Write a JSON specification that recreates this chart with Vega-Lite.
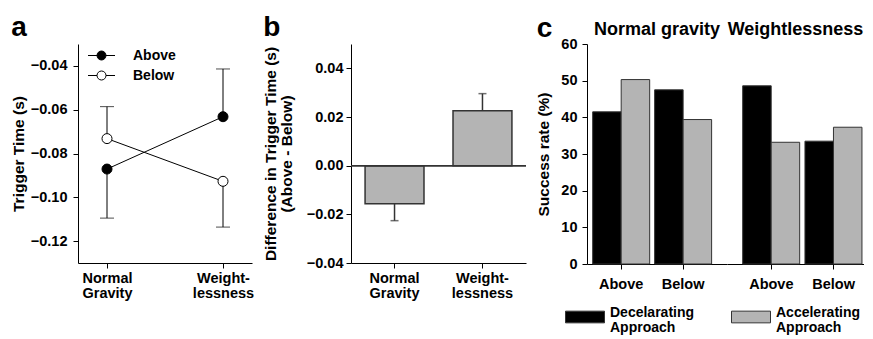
{
  "$schema": "https://vega.github.io/schema/vega-lite/v6.json",
  "padding": {"left": 11, "top": 14, "right": 0, "bottom": 0},
  "spacing": 9,
  "resolve": {
    "scale": {"x": "independent", "y": "independent", "fill": "independent", "color": "independent"},
    "legend": {"fill": "independent", "color": "independent"}
  },
  "hconcat": [
    {
      "width": 174,
      "height": 219,
      "title": {"text": "a", "offset": 2},
      "data": {
        "values": [
          {"condition": "Normal Gravity", "position": "Above", "mean": -0.0871, "err": -0.1095},
          {"condition": "Normal Gravity", "position": "Below", "mean": -0.0732, "err": -0.0586},
          {"condition": "Weightlessness", "position": "Above", "mean": -0.0632, "err": -0.0414},
          {"condition": "Weightlessness", "position": "Below", "mean": -0.0927, "err": -0.1136}
        ]
      },
      "layer": [
        {
          "mark": {"type": "line", "color": "black", "strokeWidth": 1},
          "encoding": {
            "x": {
              "field": "condition", "type": "nominal", "sort": ["Normal Gravity", "Weightlessness"],
              "scale": {"type": "point", "padding": 0.25},
              "axis": {
                "title": null, "labelAngle": 0, "labelLineHeight": 15, "labelPadding": 3,
                "labelExpr": "datum.value == 'Weightlessness' ? ['Weight-', 'lessness'] : ['Normal', 'Gravity']"
              }
            },
            "y": {
              "field": "mean", "type": "quantitative",
              "scale": {"domain": [-0.13, -0.03], "nice": false, "zero": false},
              "axis": {"title": "Trigger Time (s)", "values": [-0.12, -0.1, -0.08, -0.06, -0.04], "format": ".2f", "titlePadding": 4, "labelPadding": 6}
            },
            "detail": {"field": "position", "type": "nominal"}
          }
        },
        {
          "mark": {"type": "rule", "color": "black", "strokeWidth": 1},
          "encoding": {
            "x": {"field": "condition", "type": "nominal"},
            "y": {"field": "mean", "type": "quantitative"},
            "y2": {"field": "err"}
          }
        },
        {
          "mark": {"type": "tick", "color": "black", "thickness": 1, "size": 14, "orient": "horizontal"},
          "encoding": {
            "x": {"field": "condition", "type": "nominal"},
            "y": {"field": "err", "type": "quantitative"}
          }
        },
        {
          "mark": {"type": "point", "filled": true, "stroke": "black", "strokeWidth": 1, "size": 100, "opacity": 1},
          "encoding": {
            "x": {"field": "condition", "type": "nominal"},
            "y": {"field": "mean", "type": "quantitative"},
            "fill": {
              "field": "position", "type": "nominal",
              "scale": {"domain": ["Above", "Below"], "range": ["black", "white"]},
              "legend": {
                "title": null, "orient": "none", "legendX": 14, "legendY": 2, "padding": 0,
                "symbolType": "M-1.5,0H-0.5M0.5,0H1.5M-0.5,0A0.5,0.5,0,1,1,0.5,0A0.5,0.5,0,1,1,-0.5,0Z",
                "symbolSize": 324, "symbolStrokeColor": "black", "symbolStrokeWidth": 1,
                "labelFontSize": 14, "labelFontWeight": "bold", "labelOffset": 22, "rowPadding": 3, "labelColor": "black"
              }
            }
          }
        }
      ]
    },
    {
      "width": 175,
      "height": 219,
      "title": {"text": "b", "offset": 2},
      "data": {
        "values": [
          {"condition": "Normal Gravity", "diff": -0.0156, "err": -0.0226},
          {"condition": "Weightlessness", "diff": 0.0226, "err": 0.0296}
        ]
      },
      "layer": [
        {
          "mark": {"type": "bar", "fill": "#b4b4b4", "stroke": "#333333", "strokeWidth": 1.5},
          "encoding": {
            "x": {
              "field": "condition", "type": "nominal", "sort": ["Normal Gravity", "Weightlessness"],
              "scale": {"paddingInner": 0.33, "paddingOuter": 0.16},
              "axis": {
                "title": null, "labelAngle": 0, "labelLineHeight": 15, "labelPadding": 3,
                "labelExpr": "datum.value == 'Weightlessness' ? ['Weight-', 'lessness'] : ['Normal', 'Gravity']"
              }
            },
            "y": {
              "field": "diff", "type": "quantitative",
              "scale": {"domain": [-0.04, 0.05], "nice": false},
              "axis": {
                "title": ["Difference in Trigger Time (s)", "(Above - Below)"],
                "titleLineHeight": 16, "labelPadding": 3,
                "values": [-0.04, -0.02, 0, 0.02, 0.04], "format": ".2f", "titlePadding": 12
              }
            }
          }
        },
        {
          "mark": {"type": "rule", "color": "#333333", "strokeWidth": 1.5},
          "encoding": {"y": {"datum": 0, "type": "quantitative"}}
        },
        {
          "mark": {"type": "rule", "color": "#333333", "strokeWidth": 1.5},
          "encoding": {
            "x": {"field": "condition", "type": "nominal"},
            "y": {"field": "diff", "type": "quantitative"},
            "y2": {"field": "err"}
          }
        },
        {
          "mark": {"type": "tick", "color": "#333333", "thickness": 1.5, "size": 8, "orient": "horizontal"},
          "encoding": {
            "x": {"field": "condition", "type": "nominal"},
            "y": {"field": "err", "type": "quantitative"}
          }
        }
      ]
    },
    {
      "title": {"text": "c", "offset": -22},
      "data": {
        "values": [
          {"gravity": "Normal gravity", "position": "Above", "approach": "Decelarating Approach", "rate": 41.5},
          {"gravity": "Normal gravity", "position": "Above", "approach": "Accelerating Approach", "rate": 50.3},
          {"gravity": "Normal gravity", "position": "Below", "approach": "Decelarating Approach", "rate": 47.5},
          {"gravity": "Normal gravity", "position": "Below", "approach": "Accelerating Approach", "rate": 39.4},
          {"gravity": "Weightlessness", "position": "Above", "approach": "Decelarating Approach", "rate": 48.6},
          {"gravity": "Weightlessness", "position": "Above", "approach": "Accelerating Approach", "rate": 33.2},
          {"gravity": "Weightlessness", "position": "Below", "approach": "Decelarating Approach", "rate": 33.5},
          {"gravity": "Weightlessness", "position": "Below", "approach": "Accelerating Approach", "rate": 37.3}
        ]
      },
      "spacing": 0,
      "bounds": "flush",
      "resolve": {"scale": {"x": "independent", "y": "shared", "color": "shared"}, "legend": {"color": "shared"}},
      "hconcat": [
        {
          "width": 140,
          "height": 220,
          "title": {"text": "Normal gravity", "fontSize": 18, "anchor": "middle", "frame": "group", "offset": -3},
          "transform": [{"filter": "datum.gravity == 'Normal gravity'"}],
          "mark": {"type": "bar", "stroke": "#333333", "strokeWidth": 1},
          "encoding": {
            "x": {
              "field": "position", "type": "nominal", "sort": ["Above", "Below"],
              "scale": {"paddingInner": 0.08, "paddingOuter": 0.17, "align": 0.27},
              "axis": {"title": null, "labelAngle": 0, "labelPadding": 8}
            },
            "xOffset": {
              "field": "approach", "type": "nominal", "sort": ["Decelarating Approach", "Accelerating Approach"],
              "scale": {"paddingInner": 0, "paddingOuter": 0}
            },
            "y": {
              "field": "rate", "type": "quantitative",
              "scale": {"domain": [0, 60], "nice": false},
              "axis": {"title": "Success rate (%)", "values": [0, 10, 20, 30, 40, 50, 60], "titlePadding": 9, "labelPadding": 5}
            },
            "color": {
              "field": "approach", "type": "nominal",
              "scale": {"domain": ["Decelarating Approach", "Accelerating Approach"], "range": ["black", "#b4b4b4"]},
              "legend": {
                "title": null, "orient": "none", "legendX": -22, "legendY": 253, "direction": "horizontal", "padding": 0,
                "symbolType": "M-1,-0.3H1V0.3H-1Z", "symbolSize": 1521,
                "symbolStrokeColor": "#333333", "symbolStrokeWidth": 1, "symbolOpacity": 1,
                "labelExpr": "split(datum.label, ' ')",
                "labelFontSize": 14, "labelFontWeight": "bold", "labelOffset": 5, "labelColor": "black",
                "labelBaseline": "alphabetic",
                "columnPadding": 34, "labelLimit": 300,
                "encode": {"labels": {"update": {"lineHeight": {"value": 15}}}}
              }
            }
          }
        },
        {
          "width": 137,
          "height": 220,
          "title": {"text": "Weightlessness", "fontSize": 18, "anchor": "middle", "frame": "group", "offset": 5},
          "transform": [{"filter": "datum.gravity == 'Weightlessness'"}],
          "mark": {"type": "bar", "stroke": "#333333", "strokeWidth": 1},
          "encoding": {
            "x": {
              "field": "position", "type": "nominal", "sort": ["Above", "Below"],
              "scale": {"paddingInner": 0.08, "paddingOuter": 0.14, "align": 0.9},
              "axis": {"title": null, "labelAngle": 0, "labelPadding": 8}
            },
            "xOffset": {
              "field": "approach", "type": "nominal", "sort": ["Decelarating Approach", "Accelerating Approach"],
              "scale": {"paddingInner": 0, "paddingOuter": 0}
            },
            "y": {
              "field": "rate", "type": "quantitative",
              "axis": null
            },
            "color": {"field": "approach", "type": "nominal"}
          }
        }
      ]
    }
  ],
  "config": {
    "font": "Liberation Sans",
    "view": {"stroke": null},
    "axis": {
      "grid": false,
      "domainColor": "black", "domainWidth": 1,
      "tickColor": "black", "tickWidth": 1, "tickSize": 5,
      "labelColor": "black", "labelFont": "Liberation Sans", "labelFontSize": 14.5, "labelFontWeight": "bold", "labelPadding": 3,
      "titleColor": "black", "titleFont": "Liberation Sans", "titleFontSize": 15.5, "titleFontWeight": "bold"
    },
    "title": {"fontSize": 28, "fontWeight": "bold", "anchor": "start", "frame": "bounds", "color": "black", "font": "Liberation Sans"},
    "legend": {"labelFont": "Liberation Sans"}
  }
}
